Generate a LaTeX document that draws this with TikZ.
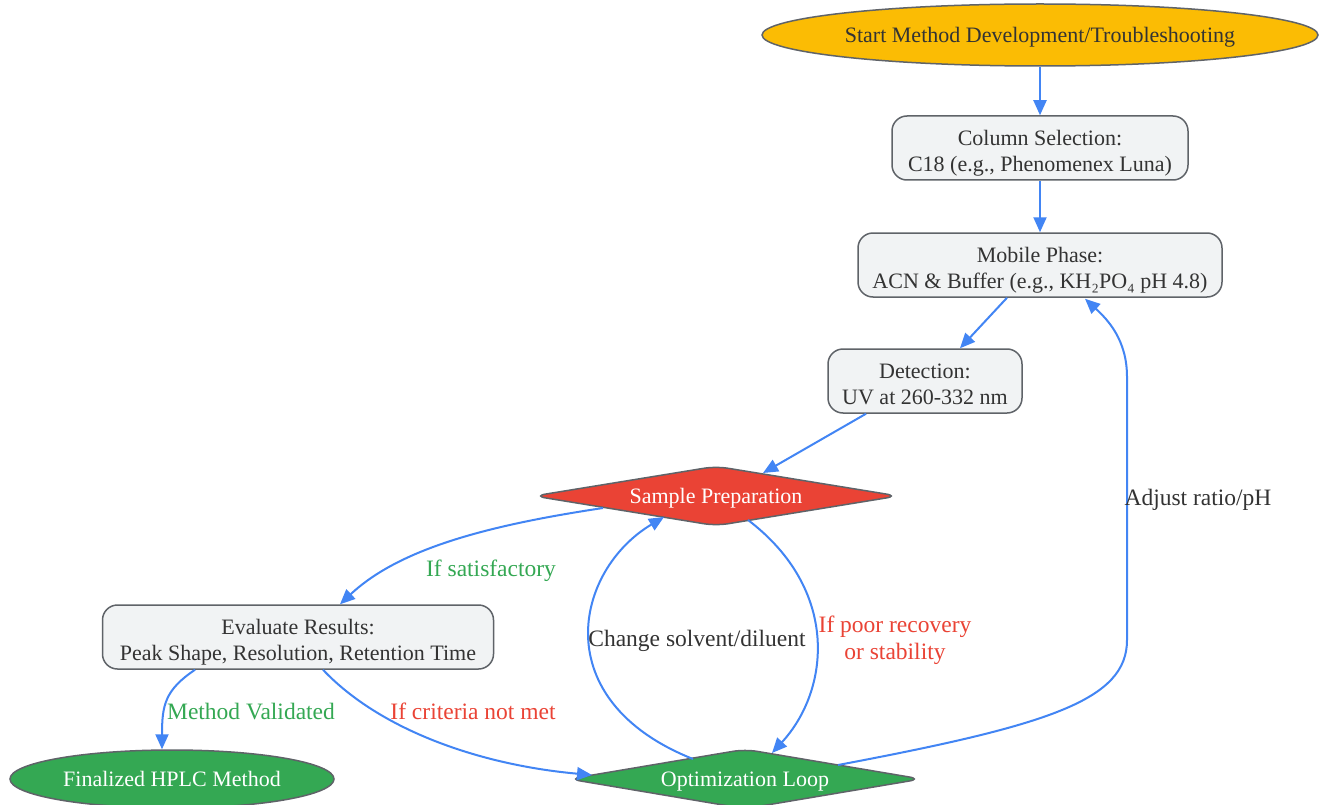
\documentclass[tikz,border=0pt]{standalone}
\usepackage{fontspec}
\setmainfont{Liberation Serif}
\usetikzlibrary{shapes.geometric,calc,arrows.meta}
\definecolor{edge}{HTML}{4285F4}
\definecolor{stroke}{HTML}{5F6368}
\definecolor{boxfill}{HTML}{F1F3F4}
\definecolor{gyellow}{HTML}{FBBC04}
\definecolor{gred}{HTML}{EA4335}
\definecolor{ggreen}{HTML}{34A853}
\definecolor{txt}{HTML}{333333}
\newcommand\tallstrut{\rule{0pt}{21pt}}
\begin{document}
\begin{tikzpicture}[x=1pt,y=-1pt,
 every node/.style={font=\fontsize{22}{26}\selectfont, text depth=-1pt},
 proc/.style={draw=stroke, line width=1.5pt, fill=boxfill, rounded corners=15pt, align=center, text=txt, inner sep=0pt},
 term/.style={ellipse, draw=stroke, line width=1.5pt, inner sep=0pt},
 dec/.style={diamond, draw=stroke, line width=1.5pt, inner sep=0pt, rounded corners=12pt, text=white, aspect=6},
 link/.style={draw=edge, line width=2pt, -{Triangle[length=15pt,width=13pt]}},
 lbl/.style={inner sep=0pt, align=center, font=\fontsize{23.5}{27}\selectfont}]
\useasboundingbox (0,0) rectangle (1324,805);
\fill[white] (0,0) rectangle (1324,805);

\node[term, fill=gyellow, text=txt, minimum width=556pt, minimum height=62pt] (start) at (1040,35) {Start Method Development/Troubleshooting};
\node[proc, minimum width=296pt, minimum height=64pt] (col) at (1040,148) {\tallstrut Column Selection:\\C18 (e.g., Phenomenex Luna)};
\node[proc, minimum width=364pt, minimum height=64pt] (mob) at (1040,265) {\tallstrut Mobile Phase:\\ACN \& Buffer (e.g., KH₂PO₄ pH 4.8)};
\node[proc, minimum width=194pt, minimum height=64pt] (det) at (925,381) {\tallstrut Detection:\\UV at 260-332 nm};
\node[dec, fill=gred, minimum width=365pt, minimum height=60pt] (samp) at (716,496) {Sample Preparation};
\node[proc, minimum width=391pt, minimum height=64pt] (eval) at (298,637) {\tallstrut Evaluate Results:\\Peak Shape, Resolution, Retention Time};
\node[term, fill=ggreen, text=white, minimum width=324pt, minimum height=58pt] (fin) at (172,779) {Finalized HPLC Method};
\node[dec, fill=ggreen, minimum width=353pt, minimum height=60pt] (opt) at (745,779) {Optimization Loop};

\draw[link] (start.south) -- (col.north);
\draw[link] (col.south) -- (mob.north);
\draw[link] ($(mob.south)+(-33,0)$) -- ($(det.north)+(35,0)$);
\draw[link] ($(det.south)+(-59,0)$) -- ($(samp.center)+(47,-23)$);
\draw[link] ($(samp.center)+(-113,12)$) .. controls (490,525) and (400,548) .. ($(eval.north)+(42,0)$);
\draw[link] ($(eval.south)+(-103,0)$) .. controls (165,690) and (162,705) .. ($(fin.north)+(-10,0)$);
\draw[link] ($(eval.south)+(25,0)$) .. controls (380,730) and (480,765) .. ($(opt.center)+(-153,-4)$);
\draw[link] ($(opt.center)+(-52,-20)$) .. controls (545,700) and (575,570) .. ($(samp.center)+(-52,21)$);
\draw[link] ($(samp.center)+(32,24)$) .. controls (840,590) and (830,690) .. ($(opt.center)+(27,-26)$);
\draw[link] ($(opt.center)+(93,-14)$) .. controls (1050,725) and (1127,700) .. (1127,640) -- (1127,377) .. controls (1127,340) and (1108,320) .. ($(mob.south)+(45,1)$);

\node[lbl, text=ggreen] (l1) at (491,568) {If satisfactory};
\node[lbl, text=ggreen] (l2) at (251,711) {Method Validated};
\node[lbl, text=gred] (l3) at (473,711) {If criteria not met};
\node[lbl, text=txt] (l4) at (697,638) {Change solvent/diluent};
\node[lbl, text=gred] (l5) at (895,638) {If poor recovery\\or stability};
\node[lbl, text=txt] (l6) at (1198,497) {Adjust ratio/pH};
\end{tikzpicture}
\end{document}
